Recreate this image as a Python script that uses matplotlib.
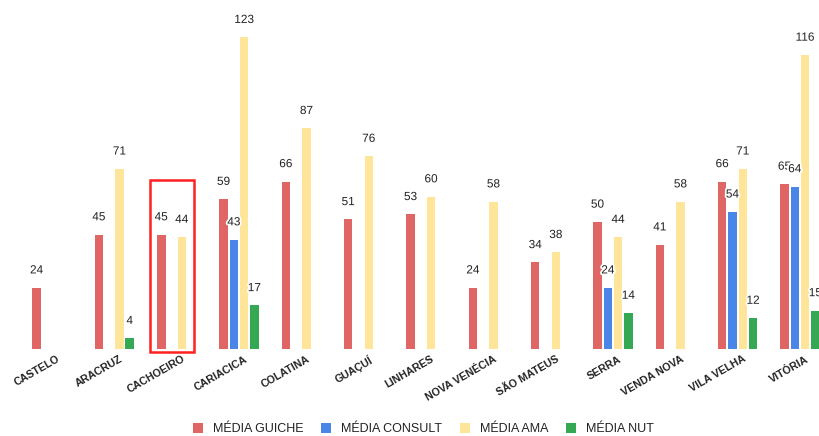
import matplotlib.pyplot as plt
import matplotlib.patheffects as pe
import matplotlib.transforms as mtransforms
from matplotlib.patches import Rectangle
import numpy as np

plt.rcParams['font.family'] = ['Liberation Sans', 'DejaVu Sans']

cidades = ['CASTELO', 'ARACRUZ', 'CACHOEIRO', 'CARIACICA', 'COLATINA', 'GUAÇUÍ',
           'LINHARES', 'NOVA VENÉCIA', 'SÃO MATEUS', 'SERRA', 'VENDA NOVA',
           'VILA VELHA', 'VITÓRIA']
guiche = [24, 45, 45, 59, 66, 51, 53, 24, 34, 50, 41, 66, 65]
consult = [0, 0, 0, 43, 0, 0, 0, 0, 0, 24, 0, 54, 64]
ama = [0, 71, 44, 123, 87, 76, 60, 58, 38, 44, 58, 71, 116]
nut = [0, 4, 0, 17, 0, 0, 0, 0, 0, 14, 0, 12, 15]

series = [('MÉDIA GUICHE', guiche, '#e06666'),
          ('MÉDIA CONSULT', consult, '#4a86e8'),
          ('MÉDIA AMA', ama, '#ffe599'),
          ('MÉDIA NUT', nut, '#34a853')]

W, H = 819, 436
fig = plt.figure(figsize=(W / 100, H / 100), dpi=100)
base = 87.5
ax = fig.add_axes([0, base / H, 1, 1 - base / H])

x = np.arange(len(cidades))
slot = 0.165
width = 0.137
halo = [pe.withStroke(linewidth=2.5, foreground='white')]
for i, (nome, vals, cor) in enumerate(series):
    pos = x + (i - 1.5) * slot
    ax.bar(pos, vals, width, color=cor, label=nome, zorder=2)
    for p, v in zip(pos, vals):
        if v:
            ax.annotate(str(v), (p, v), xytext=(0, 12.5), textcoords='offset points',
                        ha='center', va='center', fontsize=8.5, color='#222222',
                        path_effects=halo, zorder=3, annotation_clip=False)

px = 62.33
ax.set_xlim(-52 / px, (W - 52) / px)
ax.set_ylim(0, 348.5 / 2.53)
ax.set_xticks(x)
ax.set_xticklabels(cidades, rotation=30, ha='right', rotation_mode='anchor',
                   fontsize=7.7, fontweight='bold', color='#222222')
ax.tick_params(axis='x', length=0, pad=4)
shift = mtransforms.ScaledTranslation(5 / 100, 0, fig.dpi_scale_trans)
for lbl in ax.get_xticklabels():
    lbl.set_transform(lbl.get_transform() + shift)
ax.set_yticks([])
for s in ax.spines.values():
    s.set_visible(False)

# destaque em CACHOEIRO
ax.add_patch(Rectangle((2 - 0.43, -1.3), 0.71, 68.0, fill=False, edgecolor='#ff2020',
                       linewidth=1.8, clip_on=False, zorder=4))

fig.text(0.5, 1 + 3 / H, 'ç', ha='center', va='baseline', fontsize=12,
         fontweight='bold', color='#222222')

fig.legend(loc='center', bbox_to_anchor=(423.5 / W, 1 - 429 / H), ncol=4,
           frameon=False, fontsize=9, handlelength=0.8, handleheight=0.8,
           handletextpad=0.8, columnspacing=1.4, labelcolor='#222222')

fig.savefig('out.png', dpi=100)
